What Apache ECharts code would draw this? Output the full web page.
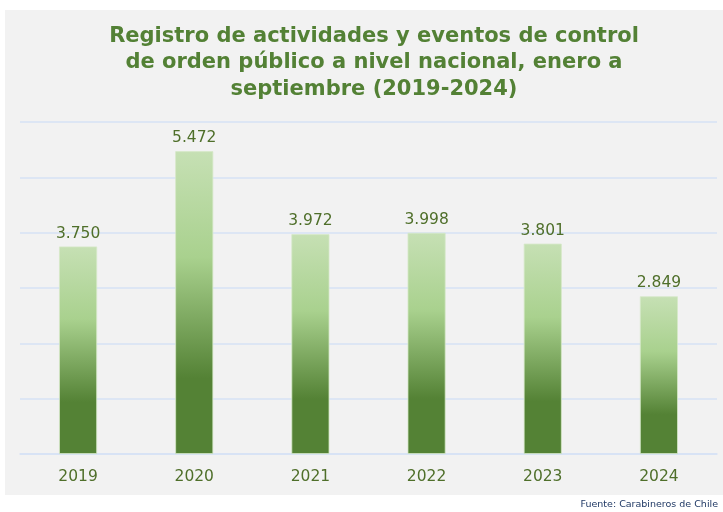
<!DOCTYPE html>
<html>
<head>
<meta charset="utf-8">
<script src="https://cdn.jsdelivr.net/npm/echarts@6/dist/echarts.min.js"></script>
<style>
  html, body { margin: 0; padding: 0; background: #fff; }
  #chart { width: 723px; height: 512px; }
</style>
</head>
<body>
<div id="chart"></div>
<script>
const years = ['2019', '2020', '2021', '2022', '2023', '2024'];
const eventos = [3750, 5472, 3972, 3998, 3801, 2849];
const yTicks = [0, 1000, 2000, 3000, 4000, 5000, 6000];

const fmt = v => String(v).replace(/\B(?=(\d{3})+(?!\d))/g, '.');

const chart = echarts.init(document.getElementById('chart'));
chart.setOption({
  backgroundColor: '#ffffff',
  graphic: [
    {
      type: 'rect',
      z: -10,
      shape: { x: 5, y: 10, width: 720, height: 485 },
      style: { fill: '#f2f2f2' }
    },
    {
      type: 'text',
      right: 5,
      top: 500,
      style: {
        text: 'Fuente: Carabineros de Chile',
        fill: '#1f3864',
        font: '9.5px "DejaVu Sans"'
      }
    }
  ],
  title: {
    text: 'Registro de actividades y eventos de control\nde orden público a nivel nacional, enero a\nseptiembre (2019-2024)',
    left: 369,
    textAlign: 'center',
    top: 18,
    textStyle: {
      color: '#538135',
      fontFamily: 'DejaVu Sans',
      fontWeight: 'bold',
      fontSize: 21,
      lineHeight: 26.5
    }
  },
  grid: { left: 20, right: 6, top: 122, bottom: 58 },
  xAxis: {
    type: 'category',
    data: years,
    axisLine: { lineStyle: { color: '#d6e2f5', width: 1.5 } },
    axisTick: { show: false },
    axisLabel: {
      color: '#4f6f2a',
      fontFamily: 'DejaVu Sans',
      fontSize: 15.5,
      margin: 15
    }
  },
  yAxis: {
    type: 'value',
    min: yTicks[0],
    max: yTicks[yTicks.length - 1],
    interval: 1000,
    axisLabel: { show: false },
    axisLine: { show: false },
    axisTick: { show: false },
    splitLine: { lineStyle: { color: '#d6e2f5', width: 1.5 } }
  },
  series: [
    {
      type: 'bar',
      data: eventos,
      barWidth: 38,
      itemStyle: {
        borderColor: '#d5e8c8',
        borderWidth: 0.8,
        color: new echarts.graphic.LinearGradient(0, 0, 0, 1, [
          { offset: 0, color: '#c6e0b4' },
          { offset: 0.35, color: '#a9d18e' },
          { offset: 0.75, color: '#548235' },
          { offset: 1, color: '#548235' }
        ])
      },
      label: {
        show: true,
        position: 'top',
        distance: 5,
        formatter: p => fmt(p.value),
        color: '#4f6f2a',
        fontFamily: 'DejaVu Sans',
        fontSize: 15.5
      }
    }
  ]
});
</script>
</body>
</html>
